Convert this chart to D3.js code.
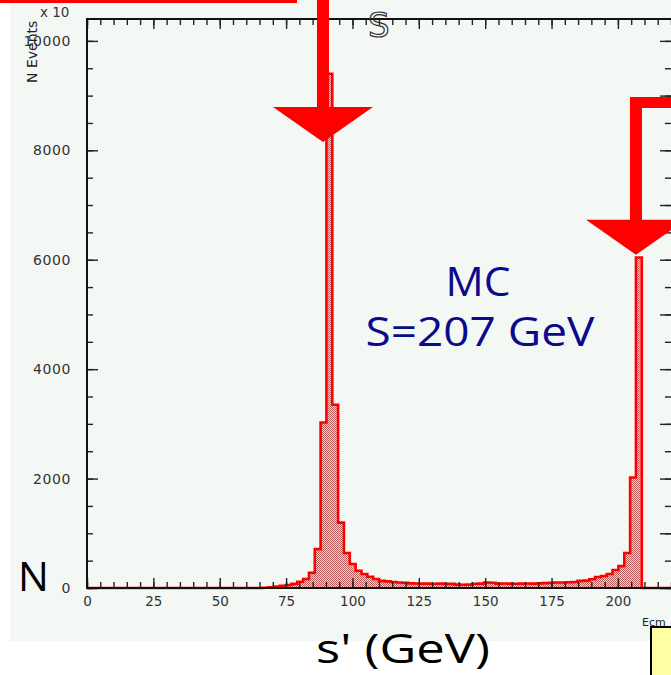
<!DOCTYPE html>
<html>
<head>
<meta charset="utf-8">
<script src="https://cdn.jsdelivr.net/npm/d3@7"></script>
<style>
  body { margin: 0; background: #ffffff; overflow: hidden; }
  svg { display: block; }
</style>
</head>
<body>
<div id="container"></div>
<script>
/* CONSTANTS AND GLOBALS */
const width = 671,
  height = 675,
  frame = { left: 87, right: 671, top: 19, bottom: 588 };

/* DATA */
// s' axis range (GeV) and N Events axis range
const xRange = [0, 220];
const yRange = [0, 10400];

// 100 bins of 2.2 GeV
const binCounts = [
  0, 0, 0, 0, 0, 0, 0, 0, 0, 0,
  0, 0, 0, 0, 0, 0, 0, 0, 0, 0,
  0, 0, 0, 0, 0, 0, 0, 0, 0, 0,
  5, 12, 25, 40, 55, 75, 115, 165, 280, 710,
  3025, 9400, 3350, 1195, 640, 440, 316, 255, 207, 165,
  130, 122, 110, 100, 95, 85, 82, 80, 80, 78,
  80, 76, 75, 62, 60, 62, 78, 80, 100, 95,
  80, 82, 80, 78, 80, 82, 80, 85, 90, 95,
  100, 100, 105, 110, 130, 135, 160, 200, 220, 255,
  330, 400, 640, 2020, 6040, 0, 0, 0, 0, 0
];

const xTickLabels = [0, 25, 50, 75, 100, 125, 150, 175, 200];
const yTickLabels = [0, 2000, 4000, 6000, 8000, 10000];

// arrow tips in data units: Z peak and full energy peak
const arrowTips = [
  { x: 88.9, y: 8150 },
  { x: 206.8, y: 6090 }
];

/* SCALES */
const xScale = d3.scaleLinear()
  .domain(xRange)
  .range([frame.left, frame.right]);

const yScale = d3.scaleLinear()
  .domain(yRange)
  .range([frame.bottom, frame.top]);

const binWidth = (xRange[1] - xRange[0]) / binCounts.length;
const bins = binCounts.map((c, i) => ({ x0: xRange[0] + i * binWidth, n: c }));
bins.push({ x0: xRange[1], n: binCounts[binCounts.length - 1] });

/* HTML ELEMENTS */
const svg = d3.select("#container")
  .append("svg")
  .attr("width", width)
  .attr("height", height);

// dotted fill like the old printout
const pat = svg.append("defs").append("pattern")
  .attr("id", "dots")
  .attr("width", 2).attr("height", 2)
  .attr("patternUnits", "userSpaceOnUse");
pat.append("rect").attr("width", 2).attr("height", 2).attr("fill", "#f0d6d6");
pat.append("rect").attr("width", 1).attr("height", 1).attr("fill", "#bb5a5a");
pat.append("rect").attr("x", 1).attr("y", 1).attr("width", 1).attr("height", 1).attr("fill", "#bb5a5a");

// grey-green panel
svg.append("rect")
  .attr("x", 10).attr("y", 0)
  .attr("width", width - 10).attr("height", 641)
  .attr("fill", "#f4f8f4");

// histogram
const area = d3.area()
  .x(d => xScale(d.x0))
  .y0(yScale(0))
  .y1(d => yScale(d.n))
  .curve(d3.curveStepAfter);

const line = d3.line()
  .x(d => xScale(d.x0))
  .y(d => yScale(d.n))
  .curve(d3.curveStepAfter);

svg.append("path")
  .datum(bins)
  .attr("d", area)
  .attr("fill", "url(#dots)");

svg.append("path")
  .datum(bins)
  .attr("d", line)
  .attr("fill", "none")
  .attr("stroke", "#ff0000")
  .attr("stroke-width", 2.6);

// axes: ticks point inwards on all four sides
const noDomain = g => g.select(".domain").remove();
const tickStyle = g => g.selectAll(".tick line").attr("stroke", "#222").attr("stroke-width", 1.4);

const xMinor = d3.range(0, 221, 5);
const yMinorLeft = d3.range(0, 10401, 500);

svg.append("g")
  .attr("transform", `translate(0,${frame.bottom})`)
  .call(d3.axisTop(xScale).tickValues(xMinor).tickSize(6).tickFormat(""))
  .call(noDomain).call(tickStyle);
svg.append("g")
  .attr("transform", `translate(0,${frame.bottom})`)
  .call(d3.axisTop(xScale).tickValues(xTickLabels).tickSize(10).tickFormat(""))
  .call(noDomain).call(tickStyle);

svg.append("g")
  .attr("transform", `translate(0,${frame.top})`)
  .call(d3.axisBottom(xScale).tickValues(xMinor).tickSize(6).tickFormat(""))
  .call(noDomain).call(tickStyle);
svg.append("g")
  .attr("transform", `translate(0,${frame.top})`)
  .call(d3.axisBottom(xScale).tickValues(xTickLabels).tickSize(10).tickFormat(""))
  .call(noDomain).call(tickStyle);

svg.append("g")
  .attr("transform", `translate(${frame.left},0)`)
  .call(d3.axisRight(yScale).tickValues(yMinorLeft).tickSize(6).tickFormat(""))
  .call(noDomain).call(tickStyle);
svg.append("g")
  .attr("transform", `translate(${frame.left},0)`)
  .call(d3.axisRight(yScale).tickValues(yTickLabels).tickSize(11).tickFormat(""))
  .call(noDomain).call(tickStyle);

svg.append("g")
  .attr("transform", `translate(${frame.right},0)`)
  .call(d3.axisLeft(yScale).tickValues(d3.range(0, 10401, 500)).tickSize(6).tickFormat(""))
  .call(noDomain).call(tickStyle);
svg.append("g")
  .attr("transform", `translate(${frame.right},0)`)
  .call(d3.axisLeft(yScale).tickValues(d3.range(0, 10401, 1000)).tickSize(11).tickFormat(""))
  .call(noDomain).call(tickStyle);

// tick labels
svg.append("g")
  .attr("transform", `translate(0,${frame.bottom})`)
  .call(d3.axisBottom(xScale).tickValues(xTickLabels).tickSize(0).tickPadding(8).tickFormat(d3.format("d")))
  .call(noDomain)
  .selectAll("text")
  .attr("font-family", "DejaVu Sans")
  .attr("font-size", 13.5)
  .attr("fill", "#333");

svg.append("g")
  .attr("transform", `translate(${frame.left},0)`)
  .call(d3.axisLeft(yScale).tickValues(yTickLabels).tickSize(0).tickPadding(16).tickFormat(d3.format("d")))
  .call(noDomain)
  .selectAll("text")
  .attr("font-family", "DejaVu Sans")
  .attr("font-size", 14)
  .attr("letter-spacing", 0.6)
  .attr("fill", "#333");

// frame
svg.append("path")
  .attr("d", `M${frame.right},${frame.top}H${frame.left}V${frame.bottom}H${frame.right}`)
  .attr("fill", "none")
  .attr("stroke", "#111")
  .attr("stroke-width", 2);

// axis titles
svg.append("text")
  .attr("x", 40).attr("y", 17)
  .attr("font-family", "DejaVu Sans")
  .attr("font-size", 13.5)
  .attr("fill", "#333")
  .text("x 10");

svg.append("text")
  .attr("transform", "translate(37,83) rotate(-90)")
  .attr("font-family", "DejaVu Sans")
  .attr("font-size", 14)
  .attr("fill", "#222")
  .text("N Events");

svg.append("text")
  .attr("x", 368).attr("y", 37)
  .attr("font-family", "DejaVu Sans")
  .attr("font-size", 34)
  .attr("fill", "none")
  .attr("stroke", "#333")
  .attr("stroke-width", 1.2)
  .text("S");

// red arrows
const red = "#ff0000";
svg.append("rect")
  .attr("x", 0).attr("y", -9)
  .attr("width", 297).attr("height", 12)
  .attr("fill", red);

arrowTips.forEach((t, i) => {
  const tx = xScale(t.x), ty = yScale(t.y);
  const headTop = ty - 35;
  const shaftTop = i === 0 ? 0 : 97;
  svg.append("rect")
    .attr("x", tx - 6).attr("y", shaftTop)
    .attr("width", 12).attr("height", headTop - shaftTop + 1)
    .attr("fill", red);
  svg.append("path")
    .attr("d", `M${tx - 50},${headTop}L${tx + 50},${headTop}L${tx},${ty}Z`)
    .attr("fill", red);
  if (i === 1) {
    svg.append("rect")
      .attr("x", tx - 6).attr("y", shaftTop)
      .attr("width", 60).attr("height", 11)
      .attr("fill", red);
  }
});

// MC label
svg.append("text")
  .attr("x", 478).attr("y", 296)
  .attr("text-anchor", "middle")
  .attr("font-family", "Open Sans")
  .attr("font-size", 40)
  .attr("fill", "#0a0a8c")
  .attr("textLength", 65)
  .attr("lengthAdjust", "spacingAndGlyphs")
  .text("MC");

svg.append("text")
  .attr("x", 480).attr("y", 346)
  .attr("text-anchor", "middle")
  .attr("font-family", "Open Sans")
  .attr("font-size", 40)
  .attr("fill", "#0a0a8c")
  .attr("textLength", 229)
  .attr("lengthAdjust", "spacingAndGlyphs")
  .text("S=207 GeV");

// big hand-written-style labels
svg.append("text")
  .attr("x", 18).attr("y", 591)
  .attr("font-family", "Open Sans")
  .attr("font-size", 41)
  .attr("fill", "#000")
  .text("N");

svg.append("text")
  .attr("x", 403).attr("y", 663)
  .attr("text-anchor", "middle")
  .attr("font-family", "Open Sans")
  .attr("font-size", 40)
  .attr("fill", "#000")
  .attr("textLength", 174)
  .attr("lengthAdjust", "spacingAndGlyphs")
  .text("s' (GeV)");

// cut-off corner box
svg.append("text")
  .attr("x", 642).attr("y", 626)
  .attr("font-family", "DejaVu Sans")
  .attr("font-size", 11)
  .attr("fill", "#222")
  .text("Ecm");

svg.append("rect")
  .attr("x", 651).attr("y", 627)
  .attr("width", 40).attr("height", 60)
  .attr("fill", "#ffffa6")
  .attr("stroke", "#000")
  .attr("stroke-width", 2);
</script>
</body>
</html>
